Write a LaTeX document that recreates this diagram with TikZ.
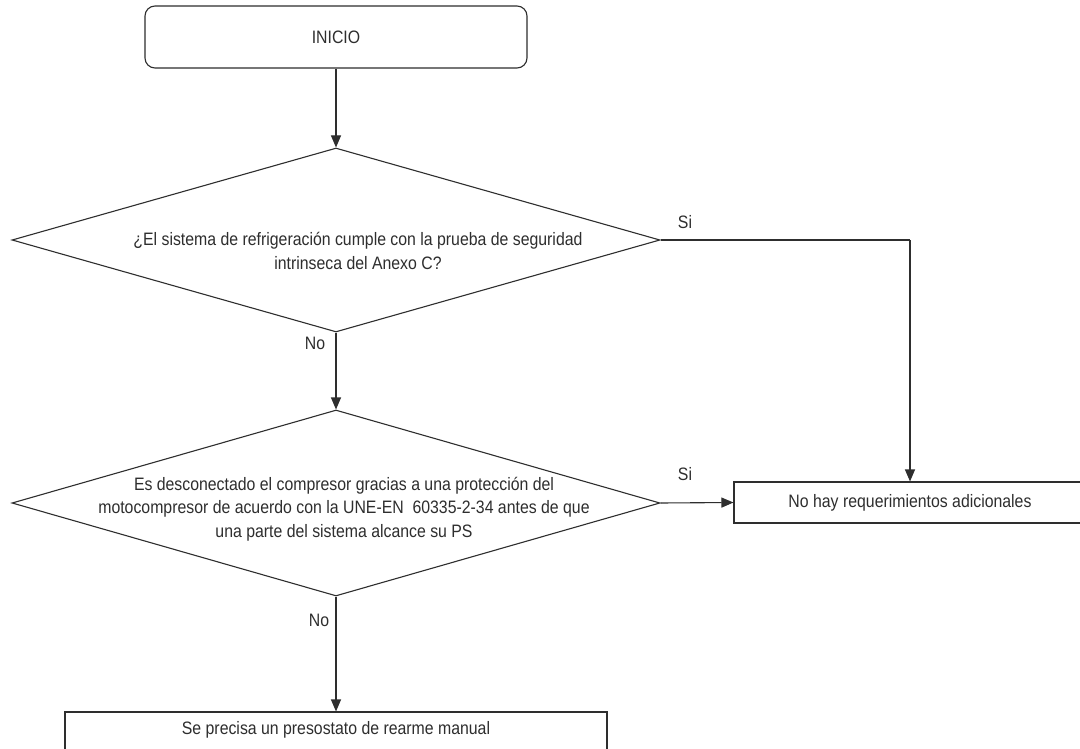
\documentclass[tikz,border=0pt]{standalone}
\usepackage{fontspec}
\setmainfont{Liberation Sans}[FakeStretch=0.88]
\usetikzlibrary{shapes.geometric,arrows.meta}
\definecolor{ink}{HTML}{2E2E2E}
\tikzset{
  box/.style={draw=ink, line width=1.1pt, inner sep=0pt, text=ink, font=\fontsize{18}{24}\selectfont},
  dec/.style={draw=ink, line width=1.1pt, diamond, inner sep=0pt},
  lbl/.style={text=ink, align=center, font=\fontsize{18}{23.5}\selectfont, inner sep=0pt},
  conn/.style={draw=ink, line width=1.1pt, -{Triangle[length=12pt,width=10pt]}},
  plain/.style={draw=ink, line width=1.1pt},
}
\begin{document}
\begin{tikzpicture}[x=1pt,y=-1pt]
\useasboundingbox[fill=white] (0,0) rectangle (1080,749);
\node[box, rounded corners=10pt, minimum width=382pt, minimum height=62pt] (start) at (336,37) {INICIO};
\node[dec, minimum width=648pt, minimum height=184pt] (d1) at (336,240) {};
\node[lbl] (t1) at (358,251) {¿El sistema de refrigeración cumple con la prueba de seguridad\\intrinseca del Anexo C?};
\node[dec, minimum width=648pt, minimum height=186pt] (d2) at (336,503) {};
\node[lbl] (t2) at (344,509) {Es desconectado el compresor gracias a una protección del\\motocompresor de acuerdo con la UNE-EN~ 60335-2-34 antes de que\\una parte del sistema alcance su PS};
\node[box, minimum width=352pt, minimum height=41pt] (nohay) at (910,502.5) {No hay requerimientos adicionales};
\node[box, minimum width=542pt, minimum height=44pt, text depth=0pt] (final) at (336,734) {};
\node[lbl] (tf) at (336,730) {Se precisa un presostato de rearme manual};
\coordinate (c1) at (910,240);
\draw[conn] (start.south) -- (d1.north);
\draw[conn] (d1.south) -- (d2.north);
\draw[plain] (d1.east) -- (c1);
\draw[conn] (c1) -- (nohay.north);
\draw[conn] (d2.east) -- (nohay.west);
\draw[conn] (d2.south) -- (final.north);
\node[lbl] (si1) at (685,222) {Si};
\node[lbl] (si2) at (685,474) {Si};
\node[lbl] (no1) at (315,343) {No};
\node[lbl] (no2) at (319,620) {No};
\end{tikzpicture}
\end{document}
